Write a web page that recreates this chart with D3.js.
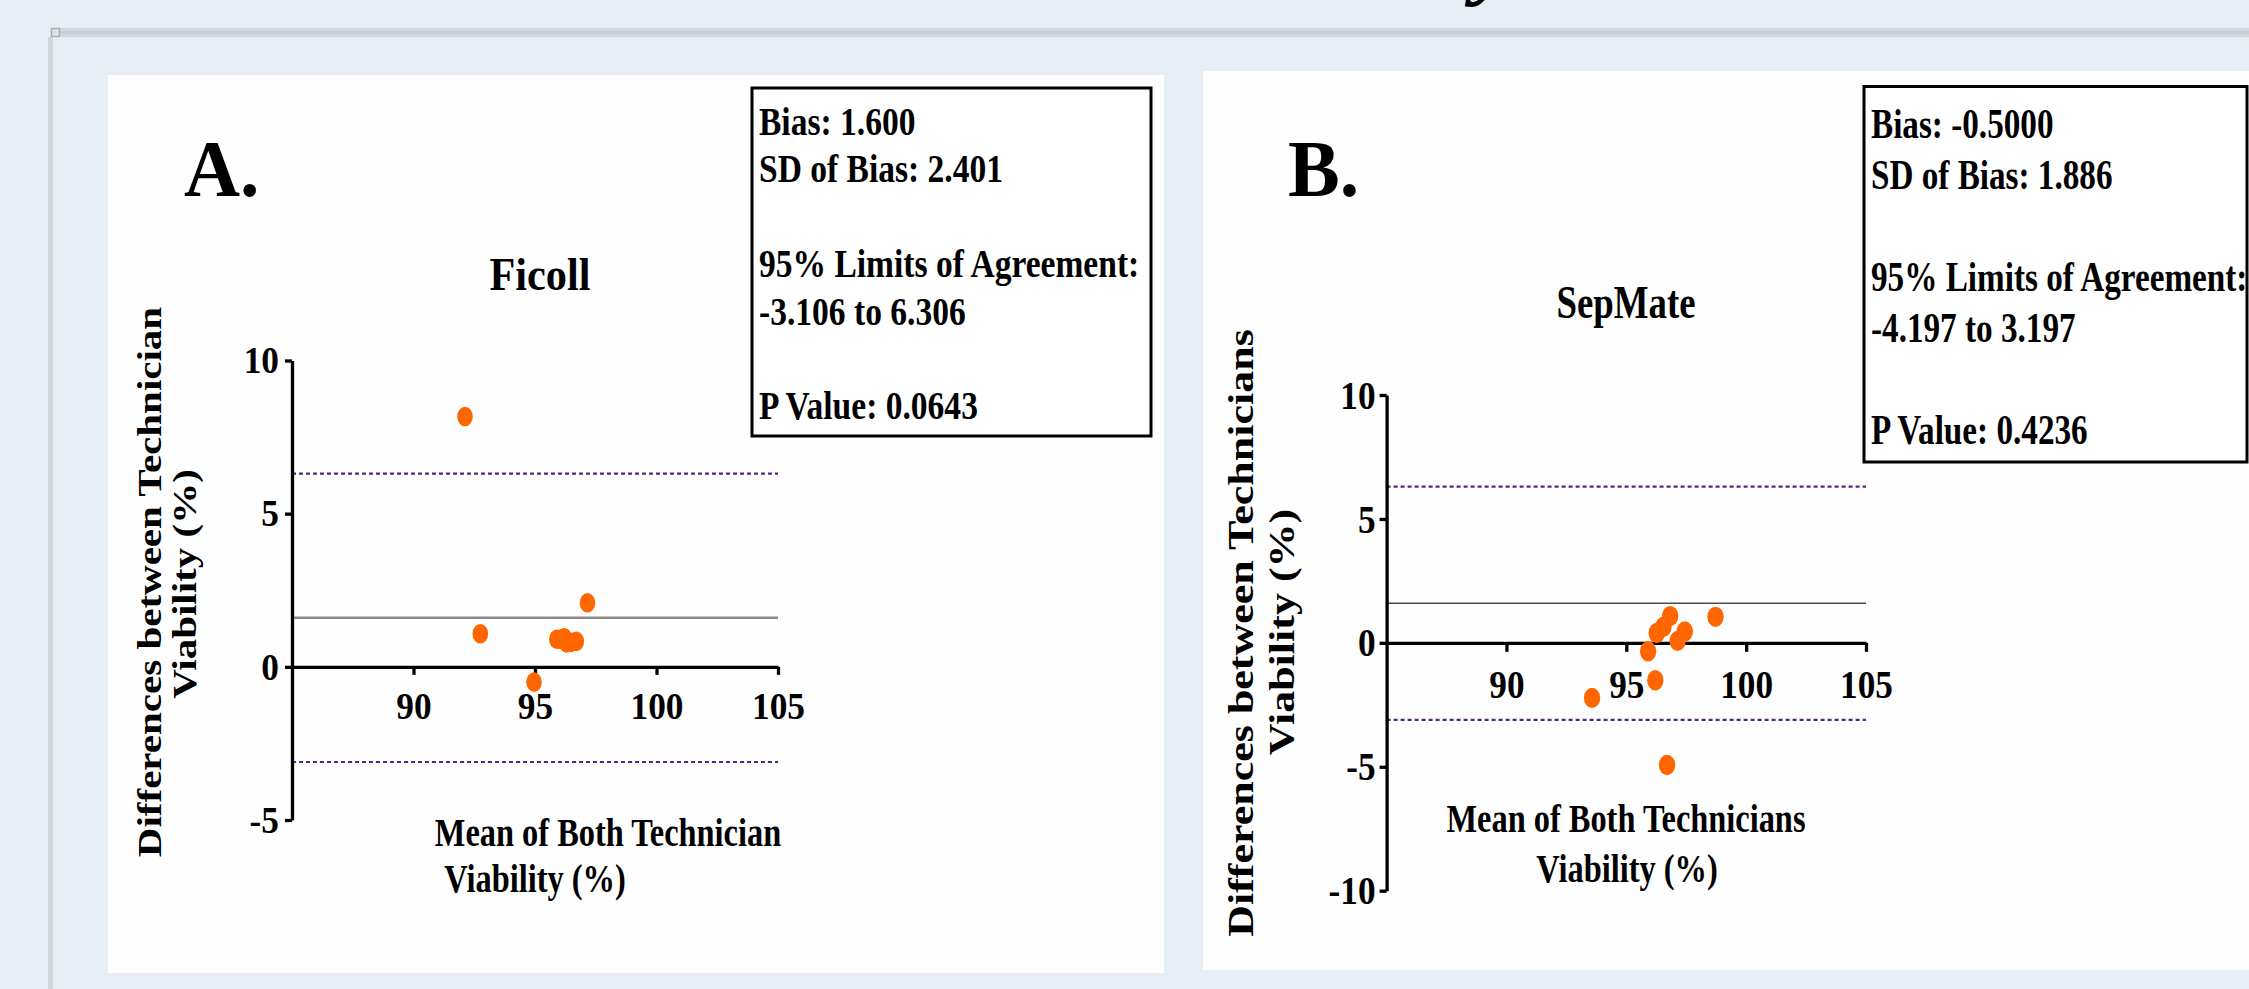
<!DOCTYPE html>
<html>
<head>
<meta charset="utf-8">
<script src="https://cdn.jsdelivr.net/npm/d3@7"></script>
<style>
body { margin: 0; background: #e8eef6; overflow: hidden; }
svg text { font-family: "Liberation Serif", "Times New Roman", serif; font-weight: bold; fill: #000; }
</style>
</head>
<body>
<svg id="fig" width="2249" height="989"></svg>
<script>
'use strict'

// Panel A - Ficoll
const ficollMean = [92.12, 92.75, 97.16, 94.96, 95.9, 96.0, 96.2, 96.3, 96.5, 96.7];
const ficollDiff = [8.17, 1.08, 2.09, -0.5, 0.9, 0.9, 0.95, 0.78, 0.8, 0.83];
const ficollBias = 1.6;
const ficollLimits = [6.306, -3.106];
const ficollStats = ["Bias: 1.600", "SD of Bias: 2.401", "", "95% Limits of Agreement:", "-3.106 to 6.306", "", "P Value: 0.0643"];

// Panel B - SepMate (reference lines drawn as in the source figure)
const sepmateMean = [93.57, 95.91, 96.21, 96.27, 96.55, 96.83, 97.14, 97.44, 98.72, 96.7];
const sepmateDiff = [-2.22, -0.34, -1.51, 0.4, 0.65, 1.08, 0.08, 0.46, 1.05, -4.93];
const sepmateBias = 1.6;
const sepmateLimits = [6.306, -3.106];
const sepmateStats = ["Bias: -0.5000", "SD of Bias: 1.886", "", "95% Limits of Agreement:", "-4.197 to 3.197", "", "P Value: 0.4236"];

const xDomain = [85, 105];
const xTicks = [90, 95, 100, 105];
const yTicksA = [-5, 0, 5, 10];
const yTicksB = [-10, -5, 0, 5, 10];

const svg = d3.select("#fig");

// squeezed text helper (the figure is horizontally compressed)
function txt(g, s, x, y, size, sx, anchor) {
    return g.append("text")
        .attr("transform", `translate(${x},${y}) scale(${sx},1)`)
        .attr("text-anchor", anchor || "start")
        .style("font-size", size + "px")
        .text(s);
}

// window frame
svg.append("rect").attr("x", 51).attr("y", 28).attr("width", 2200).attr("height", 9).attr("fill", "#d2d9de");
svg.append("rect").attr("x", 51).attr("y", 31).attr("width", 2200).attr("height", 3).attr("fill", "#c6ced3");
svg.append("rect").attr("x", 48).attr("y", 37).attr("width", 5).attr("height", 960).attr("fill", "#d0d7dc");
svg.append("rect").attr("x", 51.5).attr("y", 28.5).attr("width", 8).attr("height", 8)
    .attr("fill", "#dde3e8").attr("stroke", "#a9adb0").attr("stroke-width", 1.5);
// tail of the cut-off page title
svg.append("text").attr("x", 1474).attr("y", -12)
    .style("font-size", "92px").style("font-style", "italic").text("y");

function drawPanel(p) {
    const g = svg.append("g");
    g.append("rect").attr("x", p.panel[0]).attr("y", p.panel[1])
        .attr("width", p.panel[2]).attr("height", p.panel[3]).attr("fill", "#fefefe");

    const x = d3.scaleLinear().domain(xDomain).range(p.xRange);
    const y = d3.scaleLinear().domain(p.yDomain).range(p.yRange);

    // reference lines
    g.selectAll(".limit").data(p.limits).enter().append("line")
        .attr("x1", x(xDomain[0])).attr("x2", x(xDomain[1]))
        .attr("y1", d => y(d)).attr("y2", d => y(d))
        .attr("stroke", "#552680").attr("stroke-width", 2.2).attr("stroke-dasharray", "4,3");
    g.append("line")
        .attr("x1", x(xDomain[0])).attr("x2", x(xDomain[1]))
        .attr("y1", y(p.bias)).attr("y2", y(p.bias))
        .attr("stroke", p.biasColor).attr("stroke-width", p.biasWidth);

    // axes
    const yAxis = g.append("g")
        .attr("transform", `translate(${x(xDomain[0])},0)`)
        .call(d3.axisLeft(y).tickValues(p.yTicks).tickSize(7).tickSizeOuter(0).tickFormat(d => String(d)));
    yAxis.selectAll("text")
        .attr("x", -p.yLabelOffset / p.tickSx)
        .attr("transform", `scale(${p.tickSx},1)`)
        .style("font-size", p.tickSize + "px");

    const xAxis = g.append("g")
        .attr("transform", `translate(0,${y(0)})`)
        .call(d3.axisBottom(x).tickValues(xTicks).tickSize(p.xTickLen).tickSizeOuter(0).tickPadding(17));
    xAxis.selectAll("text")
        .attr("transform", `scale(${p.tickSx},1)`)
        .style("font-size", p.tickSize + "px");

    g.selectAll(".domain, .tick line").attr("stroke", "#000").attr("stroke-width", 3.3);

    // points
    g.selectAll(".pt").data(p.mean.map((m, i) => [m, p.diff[i]])).enter().append("ellipse")
        .attr("cx", d => x(d[0])).attr("cy", d => y(d[1]))
        .attr("rx", p.rx).attr("ry", p.ry).attr("fill", "#ff6600");

    // stats box
    g.append("rect").attr("x", p.box[0]).attr("y", p.box[1]).attr("width", p.box[2]).attr("height", p.box[3])
        .attr("fill", "#fff").attr("stroke", "#000").attr("stroke-width", 3);
    p.stats.forEach((s, i) => {
        if (s) txt(g, s, p.box[0] + 7, p.statTop + i * p.statStep, p.statSize, p.statSx);
    });

    // labels
    txt(g, p.letter, p.letterPos[0], p.letterPos[1], 80, 0.97);
    txt(g, p.title, p.titlePos[0], p.titlePos[1], p.titleSize, p.titleSx, "middle");
    p.xLabel.forEach((s, i) => txt(g, s, p.xLabelPos[i][0], p.xLabelPos[i][1], 40.5, 0.8, "middle"));
    p.yLabel.forEach((s, i) => {
        g.append("text")
            .attr("transform", `translate(${p.yLabelPos[i][0]},${p.yLabelPos[i][1]}) rotate(-90) scale(1,0.82)`)
            .attr("text-anchor", "middle")
            .style("font-size", p.yLabelSize + "px")
            .text(s);
    });
}

drawPanel({
    panel: [108, 75, 1056, 898],
    xRange: [292, 778], yDomain: [-5, 10], yRange: [820, 360.5],
    yTicks: yTicksA, xTickLen: 8, tickSize: 38, tickSx: 0.93, yLabelOffset: 13,
    mean: ficollMean, diff: ficollDiff, bias: ficollBias, limits: ficollLimits,
    biasColor: "#8a8a8a", biasWidth: 2.5, rx: 7.8, ry: 9.8,
    box: [752, 88, 399, 348], stats: ficollStats, statTop: 135, statStep: 47.4, statSize: 39, statSx: 0.86,
    letter: "A.", letterPos: [184, 196],
    title: "Ficoll", titlePos: [540, 290], titleSize: 46, titleSx: 0.92,
    xLabel: ["Mean of Both Technician", "Viability (%)"], xLabelPos: [[608, 846], [535, 892]],
    yLabel: ["Differences between Technician", "Viability (%)"], yLabelPos: [[161, 582], [196, 584]], yLabelSize: 41
});

drawPanel({
    panel: [1203, 71, 1060, 899],
    xRange: [1386.6, 1866], yDomain: [-10, 10], yRange: [890.7, 395],
    yTicks: yTicksB, xTickLen: 9, tickSize: 41, tickSx: 0.86, yLabelOffset: 11,
    mean: sepmateMean, diff: sepmateDiff, bias: sepmateBias, limits: sepmateLimits,
    biasColor: "#4a4a4a", biasWidth: 1.6, rx: 8.2, ry: 10.2,
    box: [1864, 86.5, 383, 375.5], stats: sepmateStats, statTop: 137.5, statStep: 51.1, statSize: 41.5, statSx: 0.8,
    letter: "B.", letterPos: [1288, 196],
    title: "SepMate", titlePos: [1626, 318], titleSize: 46, titleSx: 0.8,
    xLabel: ["Mean of Both Technicians", "Viability (%)"], xLabelPos: [[1626, 832], [1627, 882]],
    yLabel: ["Differences between Technicians", "Viability (%)"], yLabelPos: [[1253, 633], [1294, 632]], yLabelSize: 44
});
</script>
</body>
</html>
